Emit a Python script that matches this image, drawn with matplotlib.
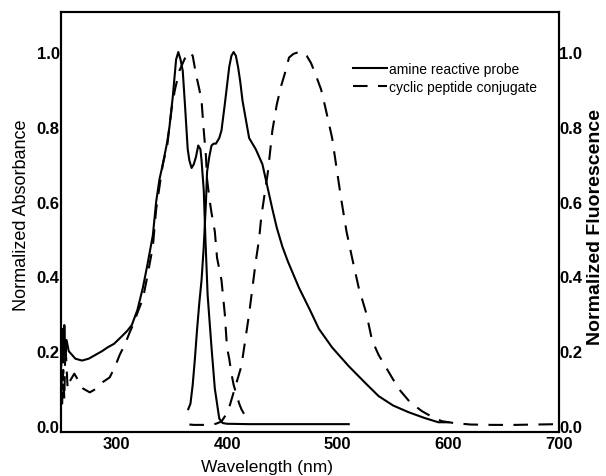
import matplotlib
matplotlib.use("Agg")
import matplotlib.pyplot as plt

plt.rcParams['font.family'] = ['Liberation Sans', 'DejaVu Sans']

# amine reactive probe - absorbance (solid)
probe_abs_wl = [250, 251, 252, 253, 254, 255, 257, 260, 263, 269, 275, 281, 287, 292,
                298, 305, 310, 314, 319, 324, 328, 333, 336, 339, 342, 344, 346, 348,
                351, 354, 356, 358, 360, 362, 364.5, 366, 368, 370, 372, 374, 376, 377,
                379, 380.5, 382.5, 386, 389, 393, 396, 400, 420, 450, 480, 510]
probe_abs = [0.15, 0.26, 0.17, 0.27, 0.19, 0.23, 0.20, 0.19, 0.18, 0.175, 0.18, 0.19,
             0.20, 0.21, 0.22, 0.24, 0.255, 0.27, 0.31, 0.37, 0.43, 0.51, 0.60, 0.66,
             0.70, 0.73, 0.76, 0.80, 0.88, 0.98, 1.0, 0.98, 0.95, 0.86, 0.74, 0.71,
             0.69, 0.70, 0.72, 0.75, 0.74, 0.71, 0.63, 0.50, 0.35, 0.21, 0.10, 0.02,
             0.008, 0.006, 0.005, 0.005, 0.005, 0.005]

# amine reactive probe - fluorescence (solid)
probe_em_wl = [365, 367, 369, 371, 373, 375, 377, 379, 381, 382, 384, 386, 388, 390, 393,
               395, 398, 400, 402, 404, 406, 408, 410, 412, 414, 417, 420, 423, 426, 429,
               432, 435, 438, 441, 445, 450, 455, 465, 475, 483, 495, 510, 525, 537, 550,
               564, 578, 591, 600]
probe_em = [0.045, 0.06, 0.11, 0.18, 0.26, 0.33, 0.39, 0.48, 0.60, 0.68, 0.72, 0.75,
            0.755, 0.755, 0.77, 0.79, 0.86, 0.91, 0.96, 0.99, 1.0, 0.99, 0.96, 0.92, 0.87,
            0.82, 0.77, 0.755, 0.74, 0.72, 0.70, 0.66, 0.62, 0.58, 0.53, 0.48, 0.44, 0.37,
            0.31, 0.26, 0.21, 0.16, 0.115, 0.08, 0.055, 0.037, 0.022, 0.01, 0.01]

# cyclic peptide conjugate - absorbance (dashed)
conj_abs_wl = [250, 251, 252, 253, 254, 256, 258, 262, 266, 270, 276, 282, 288, 294, 299,
               303, 308, 312, 315, 320, 324, 328, 333, 336, 339, 342, 346, 350, 353, 357,
               360, 363, 366, 369, 372, 375, 377, 379, 381, 382, 384, 386, 389, 391, 393,
               395, 398, 400, 402, 404, 406, 408, 411, 413, 417, 420]
conj_abs = [0.20, 0.06, 0.15, 0.07, 0.22, 0.10, 0.12, 0.14, 0.12, 0.10, 0.09, 0.10, 0.118,
            0.13, 0.16, 0.19, 0.22, 0.25, 0.27, 0.31, 0.34, 0.40, 0.48, 0.58, 0.64, 0.70,
            0.75, 0.85, 0.90, 0.95, 0.97, 0.99, 1.0, 0.99, 0.94, 0.90, 0.87, 0.79, 0.72,
            0.66, 0.61, 0.57, 0.52, 0.45, 0.42, 0.39, 0.30, 0.21, 0.18, 0.14, 0.11, 0.09,
            0.06, 0.045, 0.024, 0.01]

# cyclic peptide conjugate - fluorescence (dashed)
conj_em_wl = [366, 370, 375, 380, 385, 390, 395, 399, 402, 405, 408, 411, 413, 415, 417,
              420, 423, 426, 429, 431, 434, 437, 441, 445, 449, 453, 456, 460, 465, 468,
              472, 476, 480, 485, 489, 495, 499, 503, 508, 513, 519, 526, 531, 537, 543,
              549, 555, 565, 576, 585, 594, 605, 620, 640, 660, 680, 700]
conj_em = [0.004, 0.003, 0.003, 0.003, 0.004, 0.006, 0.012, 0.03, 0.05, 0.08, 0.11, 0.14,
           0.16, 0.20, 0.24, 0.30, 0.37, 0.44, 0.50, 0.56, 0.62, 0.68, 0.79, 0.86, 0.91,
           0.95, 0.985, 0.995, 1.0, 1.0, 0.99, 0.97, 0.94, 0.90, 0.85, 0.77, 0.69, 0.61,
           0.52, 0.45, 0.37, 0.30, 0.23, 0.19, 0.16, 0.13, 0.10, 0.065, 0.04, 0.025, 0.013,
           0.008, 0.004, 0.003, 0.003, 0.004, 0.005]

xticks = [300, 400, 500, 600, 700]
yticks = [0.0, 0.2, 0.4, 0.6, 0.8, 1.0]

fig = plt.figure(figsize=(6.06, 4.77), dpi=100)
ax = fig.add_axes([61 / 606, 44 / 477, 498 / 606, 420 / 477])
ax2 = ax.twinx()

dash = (0, (7, 5))
lw = 1.5
ax.plot(probe_abs_wl, probe_abs, color='black', lw=lw, label='amine reactive probe')
ax.plot(conj_abs_wl, conj_abs, color='black', lw=lw, linestyle=dash,
        label='cyclic peptide conjugate')
ax2.plot(probe_em_wl, probe_em, color='black', lw=lw)
ax2.plot(conj_em_wl, conj_em, color='black', lw=lw, linestyle=dash)

for a in (ax, ax2):
    a.set_xlim(250, 700)
    a.set_ylim(-0.016, 1.107)
    a.set_yticks(yticks)
    a.set_yticklabels([f'{v:.1f}' for v in yticks])
    for s in a.spines.values():
        s.set_linewidth(1.5)

ax.set_xticks(xticks)
ax.tick_params(axis='both', length=0, labelsize=12)
ax.tick_params(axis='y', pad=1)
ax.tick_params(axis='x', pad=3)
ax2.tick_params(axis='y', length=0, labelsize=12, pad=0)
for lab in ax.get_xticklabels() + ax.get_yticklabels() + ax2.get_yticklabels():
    lab.set_fontweight('bold')

ax.set_xlabel('Wavelength (nm)', fontsize=12.5)
ax.xaxis.set_label_coords(0.414, -0.064)
ax.set_ylabel('Normalized Absorbance', fontsize=13)
ax.yaxis.set_label_coords(-0.062, 0.519)
ax2.set_ylabel('Normalized Fluorescence', fontsize=14, fontweight='bold', rotation=90)
ax2.yaxis.set_label_coords(1.057, 0.49)

ax.legend(loc='upper left', bbox_to_anchor=(353 / 606, 1 - 63 / 477),
          bbox_transform=fig.transFigure, frameon=False, fontsize=10,
          handlelength=2.45, handletextpad=0.15, labelspacing=0.3,
          borderpad=0, borderaxespad=0)

fig.savefig('out.png', dpi=100)
